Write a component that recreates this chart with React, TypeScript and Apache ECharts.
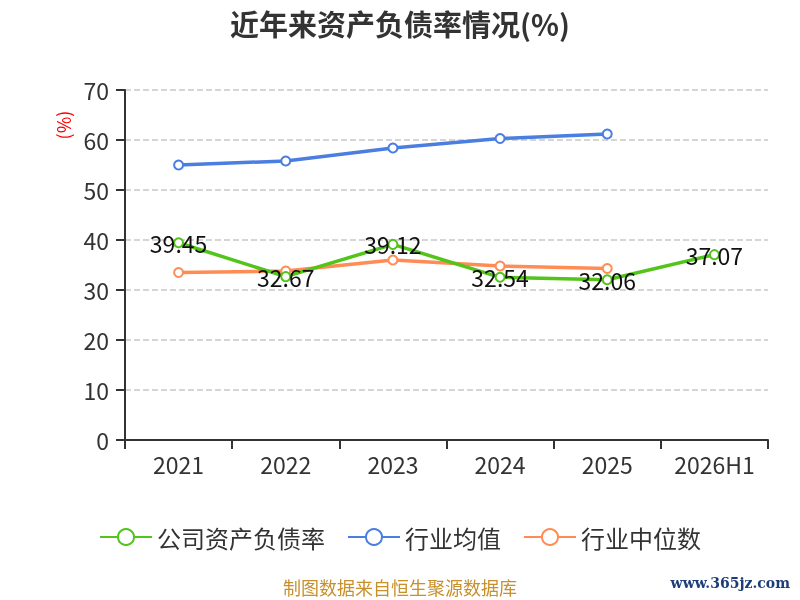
import React, { useEffect, useRef } from "react";
import * as echarts from "echarts";

const categories = ["2021", "2022", "2023", "2024", "2025", "2026H1"];
const companyRatio = [39.45, 32.67, 39.12, 32.54, 32.06, 37.07];
const industryAvg = [55.0, 55.8, 58.4, 60.3, 61.2, null];
const industryMedian = [33.5, 33.8, 36.0, 34.8, 34.3, null];
const seriesNames = ["公司资产负债率", "行业均值", "行业中位数"];
const colors = ["#52c41a", "#4a7ee0", "#ff8c55"];

const FONT = "'Noto Sans CJK SC', 'Noto Sans', sans-serif";

export default function App() {
  const ref = useRef<HTMLDivElement>(null);
  useEffect(() => {
    if (!ref.current) return;
    const chart = echarts.init(ref.current, null, { renderer: "svg" });
    const data = [companyRatio, industryAvg, industryMedian];
    chart.setOption({
      animation: false,
      textStyle: { fontFamily: FONT },
      title: {
        text: "近年来资产负债率情况(%)",
        left: "center",
        top: 3,
        textStyle: { fontSize: 29, fontWeight: "bold", color: "#333", fontFamily: FONT },
      },
      grid: { left: 125, right: 32, top: 90, bottom: 160 },
      legend: {
        top: 520,
        left: "center",
        itemWidth: 52,
        itemHeight: 20,
        itemGap: 22,
        textStyle: { fontSize: 24, color: "#333", fontFamily: FONT },
        data: seriesNames,
      },
      xAxis: {
        type: "category",
        data: categories,
        boundaryGap: true,
        axisLine: { lineStyle: { color: "#333", width: 2 } },
        axisTick: { show: true, length: 9, lineStyle: { color: "#333", width: 2 } },
        axisLabel: { fontSize: 23, color: "#333", margin: 12 },
      },
      yAxis: {
        type: "value",
        min: 0,
        max: 70,
        interval: 10,
        axisLine: { show: true, lineStyle: { color: "#333", width: 2 } },
        axisTick: { show: true, length: 9, lineStyle: { color: "#333", width: 2 } },
        axisLabel: { fontSize: 23, color: "#333", margin: 16 },
        splitLine: { lineStyle: { type: "dashed", color: "#c8c8c8", width: 1.5 } },
      },
      graphic: [
        {
          type: "text",
          x: 63,
          y: 125,
          rotation: Math.PI / 2,
          style: { text: "(%)", fontSize: 18, fill: "red", fontFamily: FONT, align: "center", verticalAlign: "middle" },
        },
        {
          type: "text",
          left: "center",
          top: 578,
          style: { text: "制图数据来自恒生聚源数据库", fontSize: 18, fill: "#c8902a", fontFamily: FONT },
        },
        {
          type: "text",
          right: 10,
          top: 576,
          style: { text: "www.365jz.com", fontSize: 14, fill: "#1e3c78", fontFamily: "'DejaVu Serif', serif", fontWeight: "bold" },
        },
      ],
      series: seriesNames.map((name, i) => ({
        name,
        type: "line",
        data: data[i],
        symbol: "emptyCircle",
        symbolSize: 9,
        lineStyle: { width: 3.5, color: colors[i] },
        itemStyle: { color: colors[i], borderWidth: 2 },
        z: i === 0 ? 3 : 2,
        label:
          i === 0
            ? {
                show: true,
                position: "inside",
                fontSize: 23,
                color: "#111",
                fontFamily: FONT,
                formatter: (p: any) => p.value.toFixed(2),
              }
            : { show: false },
      })),
    });
    return () => chart.dispose();
  }, []);
  return <div ref={ref} style={{ position: "fixed", left: 0, top: 0, width: 800, height: 600 }} />;
}
